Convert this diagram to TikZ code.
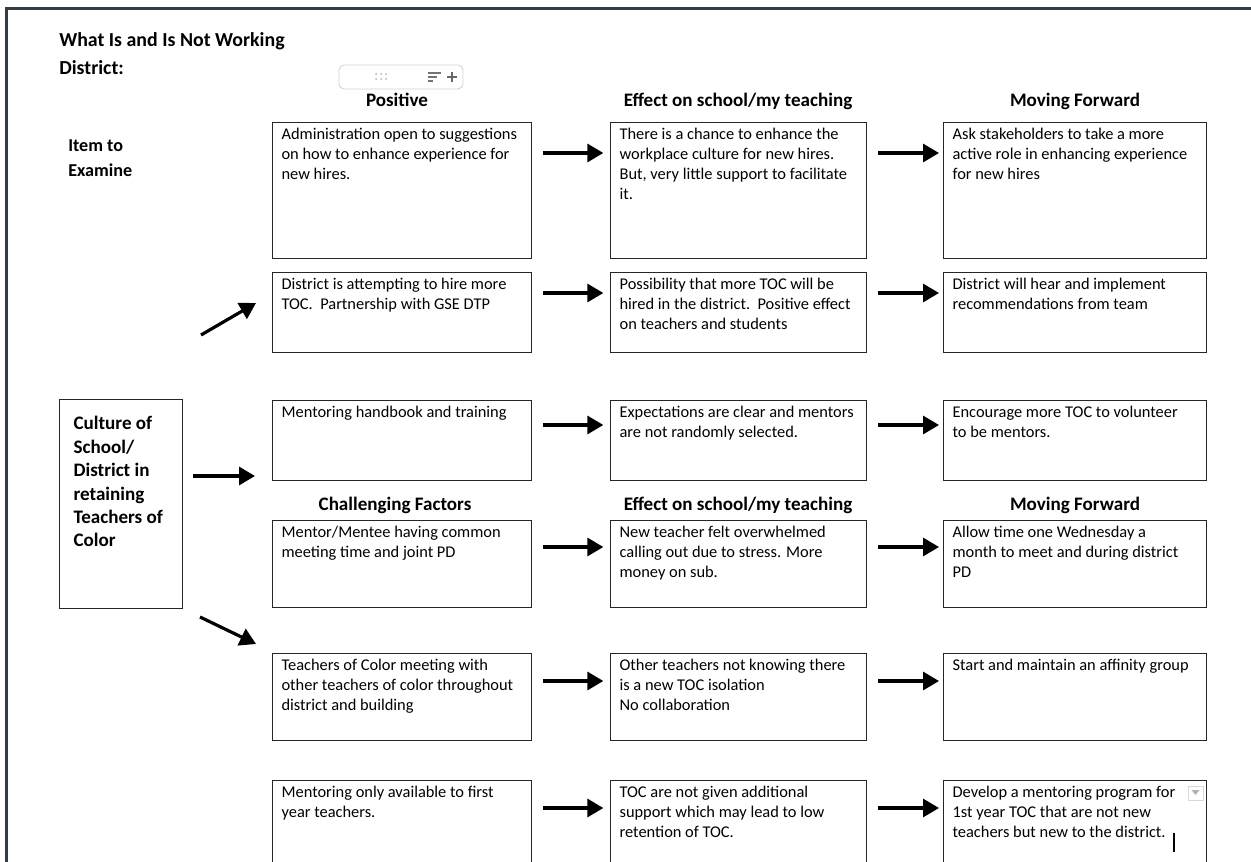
\documentclass[tikz,border=0pt]{standalone}
\usepackage{fontspec}
\setmainfont{Carlito}
\usetikzlibrary{arrows.meta}
\newlength\pxu \setlength\pxu{0.75pt}
\newcommand\cellc[3]{\parbox[c][#2\pxu][t]{#1\pxu}{\fontsize{12.3}{15}\selectfont\raggedright\leftskip=6.75pt\rule{0pt}{13pt}#3}}
\newcommand\cellb[3]{\parbox[c][#2\pxu][t]{#1\pxu}{\fontsize{14.3}{17.6}\selectfont\bfseries\raggedright\leftskip=10.5pt\rule{0pt}{22.5pt}#3}}
\definecolor{framec}{HTML}{333D47}
\begin{document}
\begin{tikzpicture}[x=0.75pt,y=-0.75pt,
  cell/.style={draw=black!85, line width=0.9pt, inner sep=0pt, anchor=north west},
  hdr/.style={font=\fontsize{14.3}{17}\selectfont\bfseries, inner sep=0pt, anchor=base},
  ttl/.style={font=\fontsize{14.9}{18}\selectfont\bfseries, inner sep=0pt, anchor=base west},
  arr/.style={-{Triangle[length=12pt,width=13.5pt]}, line width=2.4pt},
  ui/.style={draw=black!18, line width=0.6pt}]
\useasboundingbox (0,0) rectangle (1251,862);
\clip (0,0) rectangle (1251,862);
% frame
\fill[framec] (5,7) rectangle (1251,10);
\fill[framec] (5,7) rectangle (8,862);
% titles
\node[ttl] (t1) at (59,47) {What Is and Is Not Working};
\node[ttl] (t2) at (59,75) {District:};
\node[ttl, font=\fontsize{13.6}{17}\selectfont\bfseries] (it1) at (68,152) {Item to};
\node[ttl, font=\fontsize{13.6}{17}\selectfont\bfseries] (it2) at (68,177) {Examine};
% toolbar widget
\draw[ui, rounded corners=4pt] (339,65) coordinate (tb1) rectangle (463,89) coordinate (tb2);
\foreach \i in {376,381,386}{\foreach \j in {74,79}{\fill[black!30] (\i,\j) circle (1);}}
\draw[black!55, line width=1pt] (428,73) -- (441,73) (428,77) -- (437,77) (428,81) -- (433,81);
\draw[black!60, line width=1pt] (447,77) -- (457,77) (452,72) -- (452,82);
% headers
\node[hdr] (h1) at (397,107) {Positive};
\node[hdr] (h2) at (738,107) {Effect on school/my teaching};
\node[hdr] (h3) at (1075,107) {Moving Forward};
\node[hdr] (h4) at (395,510) {Challenging Factors};
\node[hdr] (h5) at (738,510) {Effect on school/my teaching};
\node[hdr] (h6) at (1075,510) {Moving Forward};
% left box
\node[cell] (cult) at (59,399) {\cellb{123}{209}{Culture of\\School/\\District in\\retaining\\Teachers of\\Color}};
% row 1
\node[cell] (r1a) at (272,122) {\cellc{259}{136}{Administration open to suggestions\\on how to enhance experience for\\new hires.}};
\node[cell] (r1b) at (610,122) {\cellc{256}{136}{There is a chance to enhance the\\workplace culture for new hires.\\But, very little support to facilitate\\it.}};
\node[cell] (r1c) at (943,122) {\cellc{263}{136}{Ask stakeholders to take a more\\active role in enhancing experience\\for new hires}};
% row 2
\node[cell] (r2a) at (272,272) {\cellc{259}{80}{District is attempting to hire more\\TOC.\ \ Partnership with GSE DTP}};
\node[cell] (r2b) at (610,272) {\cellc{256}{80}{Possibility that more TOC will be\\hired in the district.\ \ Positive effect\\on teachers and students}};
\node[cell] (r2c) at (943,272) {\cellc{263}{80}{District will hear and implement\\recommendations from team}};
% row 3
\node[cell] (r3a) at (272,400) {\cellc{259}{80}{Mentoring handbook and training}};
\node[cell] (r3b) at (610,400) {\cellc{256}{80}{Expectations are clear and mentors\\are not randomly selected.}};
\node[cell] (r3c) at (943,400) {\cellc{263}{80}{Encourage more TOC to volunteer\\to be mentors.}};
% row 4
\node[cell] (r4a) at (272,520) {\cellc{259}{87}{Mentor/Mentee having common\\meeting time and joint PD}};
\node[cell] (r4b) at (610,520) {\cellc{256}{87}{New teacher felt overwhelmed\\calling out due to stress. More\\money on sub.}};
\node[cell] (r4c) at (943,520) {\cellc{263}{87}{Allow time one Wednesday a\\month to meet and during district\\PD}};
% row 5
\node[cell] (r5a) at (272,653) {\cellc{259}{87}{Teachers of Color meeting with\\other teachers of color throughout\\district and building}};
\node[cell] (r5b) at (610,653) {\cellc{256}{87}{Other teachers not knowing there\\is a new TOC isolation\\No collaboration}};
\node[cell] (r5c) at (943,653) {\cellc{263}{87}{Start and maintain an affinity group}};
% row 6
\node[cell] (r6a) at (272,780) {\cellc{259}{100}{Mentoring only available to first\\year teachers.}};
\node[cell] (r6b) at (610,780) {\cellc{256}{100}{TOC are not given additional\\support which may lead to low\\retention of TOC.}};
\node[cell] (r6c) at (943,780) {\cellc{263}{100}{Develop a mentoring program for\\1st year TOC that are not new\\teachers but new to the district.}};
% dropdown + cursor
\draw[black!15, line width=0.6pt] (1188,786) coordinate (dd1) rectangle (1203,800) coordinate (dd2);
\fill[black!30] (1191.5,790) -- (1199.5,790) -- (1195.5,795) -- cycle;
\draw[black, line width=1.5pt] (1174,833) coordinate (cur1) -- (1174,852) coordinate (cur2);
% row arrows
\foreach \r/\d in {r1/31,r2/21,r3/25,r4/27,r5/28,r6/28}{
  \draw[arr, shorten <=8.25pt, shorten >=5pt] ([yshift=-\d*0.75pt]\r a.north east) -- ([yshift=-\d*0.75pt]\r b.north west);
  \draw[arr, shorten <=8.25pt, shorten >=3pt] ([yshift=-\d*0.75pt]\r b.north east) -- ([yshift=-\d*0.75pt]\r c.north west);
}
% left arrows
\coordinate (la1) at (201,335); \coordinate (la1e) at (256,303);
\coordinate (la2) at (193,476); \coordinate (la2e) at (255,476);
\coordinate (la3) at (200,617); \coordinate (la3e) at (256,644);
\draw[arr] (la1) -- (la1e);
\draw[arr] (la2) -- (la2e);
\draw[arr] (la3) -- (la3e);
\end{tikzpicture}
\end{document}
